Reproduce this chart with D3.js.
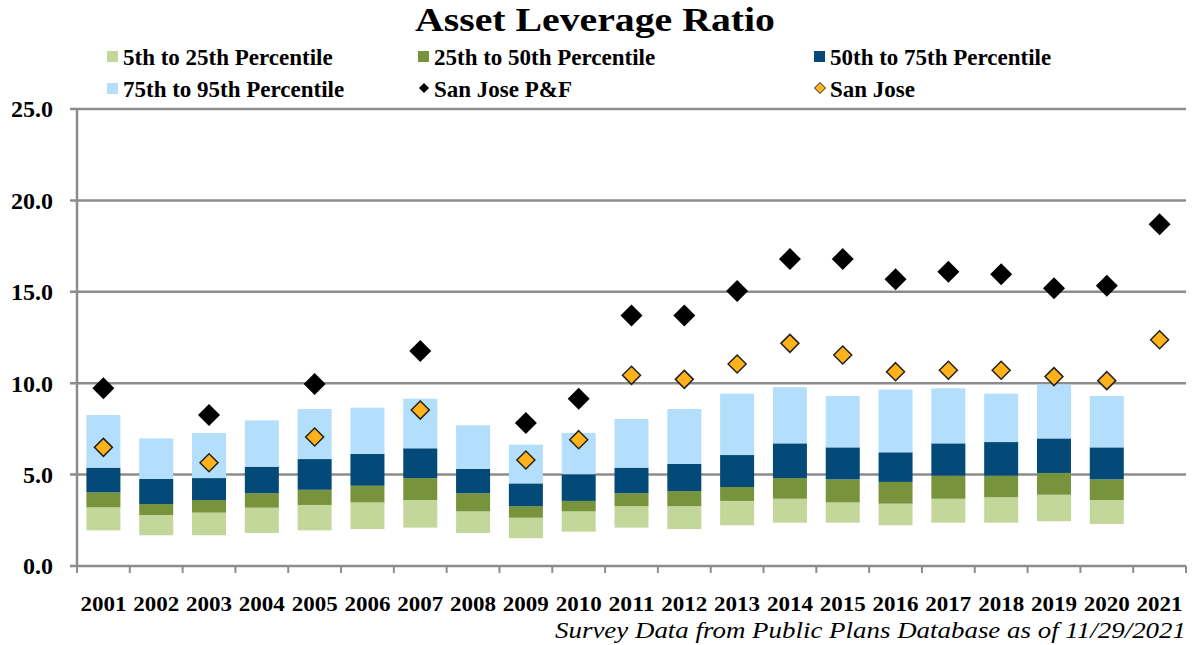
<!DOCTYPE html>
<html>
<head>
<meta charset="utf-8">
<script src="https://cdn.jsdelivr.net/npm/d3@7"></script>
<style>
body { margin: 0; background: #fff; }
svg { display: block; font-family: "Liberation Serif", "Times New Roman", serif; }
</style>
</head>
<body>
<svg width="1196" height="645"></svg>
<script>
// data
var years = ["2001","2002","2003","2004","2005","2006","2007","2008","2009","2010","2011",
             "2012","2013","2014","2015","2016","2017","2018","2019","2020","2021"];
var p5  = [1.95,1.68,1.68,1.81,1.95,2.02,2.10,1.81,1.52,1.88,2.10,2.02,2.23,2.37,2.37,2.23,2.37,2.37,2.45,2.30,null];
var p25 = [3.21,2.79,2.92,3.19,3.34,3.48,3.61,2.99,2.64,2.99,3.27,3.27,3.56,3.68,3.48,3.41,3.68,3.76,3.90,3.61,null];
var p50 = [4.03,3.39,3.61,3.98,4.17,4.39,4.81,3.98,3.27,3.56,3.98,4.10,4.32,4.81,4.74,4.60,4.94,4.94,5.09,4.74,null];
var p75 = [5.38,4.76,4.81,5.43,5.85,6.14,6.44,5.31,4.52,5.02,5.38,5.58,6.07,6.71,6.49,6.22,6.71,6.78,6.98,6.49,null];
var p95 = [8.26,6.98,7.28,7.97,8.59,8.66,9.15,7.70,6.64,7.28,8.04,8.59,9.43,9.78,9.30,9.65,9.72,9.43,9.92,9.30,null];
var sjPF = [9.72,null,8.26,null,9.96,null,11.76,null,7.82,9.15,13.71,13.71,15.04,16.79,16.79,15.68,16.10,15.96,15.19,15.33,18.69];
var sj   = [6.49,null,5.65,null,7.06,null,8.53,null,5.80,6.91,10.43,10.21,11.05,12.18,11.54,10.63,10.71,10.71,10.36,10.14,12.38];
var yTicks = [0,5,10,15,20,25];

var segNames = ["5th to 25th Percentile","25th to 50th Percentile","50th to 75th Percentile","75th to 95th Percentile"];
var segColors = ["#c4d79b","#77933c","#034a78","#b3dffc"];
var bounds = [p5,p25,p50,p75,p95];

var svg = d3.select("svg");
var margin = {left: 77, right: 10, top: 109, bottom: 79};
var width = 1196 - margin.left - margin.right;
var height = 645 - margin.top - margin.bottom;

var xb = d3.scaleBand().domain(years).range([0, width]).padding(0);
var y = d3.scaleLinear().domain([0,25]).range([height, 0]);

var g = svg.append("g").attr("transform","translate(" + margin.left + "," + margin.top + ")");

// gridlines
g.selectAll("line.grid").data(yTicks).enter().append("line")
  .attr("class","grid")
  .attr("x1", -7).attr("x2", width)
  .attr("y1", function(d){ return y(d); }).attr("y2", function(d){ return y(d); })
  .attr("stroke","#8c8c8c").attr("stroke-width",2.5);

// y axis line
g.append("line").attr("x1",0).attr("x2",0).attr("y1",0).attr("y2",height)
  .attr("stroke","#8c8c8c").attr("stroke-width",2.5);

// x ticks at band edges
var edges = years.map(function(d){ return xb(d); }).concat([width]);
g.selectAll("line.xt").data(edges).enter().append("line")
  .attr("x1", function(d){ return d; }).attr("x2", function(d){ return d; })
  .attr("y1", height).attr("y2", height + 7)
  .attr("stroke","#8c8c8c").attr("stroke-width",2);

// y labels
g.selectAll("text.yl").data(yTicks).enter().append("text")
  .attr("x", -24).attr("y", function(d){ return y(d); }).attr("dy","0.35em")
  .attr("text-anchor","end").attr("font-size","24px").attr("font-weight","bold")
  .text(function(d){ return d3.format(".1f")(d); });

// x labels
g.selectAll("text.xl").data(years).enter().append("text")
  .attr("x", function(d){ return xb(d) + xb.bandwidth()/2; }).attr("y", height + 45)
  .attr("text-anchor","middle").attr("font-size","22px").attr("font-weight","bold")
  .attr("textLength", 46).attr("lengthAdjust","spacingAndGlyphs")
  .text(function(d){ return d; });

// bars
var bw = 34;
for (var s = 0; s < 4; s++) {
  g.selectAll("rect.s" + s).data(years).enter()
    .filter(function(d,i){ return bounds[s][i] != null; })
    .append("rect")
    .attr("x", function(d){ return xb(d) + xb.bandwidth()/2 - bw/2; })
    .attr("width", bw)
    .attr("y", function(d){ var i = years.indexOf(d); return y(bounds[s+1][i]); })
    .attr("height", function(d){ var i = years.indexOf(d); return y(bounds[s][i]) - y(bounds[s+1][i]); })
    .attr("fill", segColors[s]);
}

var diamond = function(r){ return "M0," + (-r) + "L" + r + ",0L0," + r + "L" + (-r) + ",0Z"; };

// San Jose P&F
g.selectAll("path.pf").data(years).enter()
  .filter(function(d,i){ return sjPF[i] != null; })
  .append("path")
  .attr("transform", function(d){ var i = years.indexOf(d); return "translate(" + (xb(d) + xb.bandwidth()/2) + "," + y(sjPF[i]) + ")"; })
  .attr("d", diamond(11)).attr("fill","#000");

// San Jose
g.selectAll("path.sj").data(years).enter()
  .filter(function(d,i){ return sj[i] != null; })
  .append("path")
  .attr("transform", function(d){ var i = years.indexOf(d); return "translate(" + (xb(d) + xb.bandwidth()/2) + "," + y(sj[i]) + ")"; })
  .attr("d", diamond(9)).attr("fill","#ffb219").attr("stroke","#222").attr("stroke-width",1.5);

// title
svg.append("text").attr("x", 595).attr("y", 31).attr("text-anchor","middle")
  .attr("font-size","33px").attr("font-weight","bold")
  .attr("textLength", 360).attr("lengthAdjust","spacingAndGlyphs")
  .text("Asset Leverage Ratio");

// legend
var legend = [
  {name: segNames[0], type: "sq", color: segColors[0], x: 107, y: 57},
  {name: segNames[1], type: "sq", color: segColors[1], x: 418, y: 57},
  {name: segNames[2], type: "sq", color: segColors[2], x: 814, y: 57},
  {name: segNames[3], type: "sq", color: segColors[3], x: 107, y: 89},
  {name: "San Jose P&F", type: "pf", color: "#000", x: 418, y: 89},
  {name: "San Jose", type: "sj", color: "#ffb219", x: 814, y: 89}
];
var lg = svg.selectAll("g.lg").data(legend).enter().append("g")
  .attr("transform", function(d){ return "translate(" + d.x + "," + d.y + ")"; });
lg.filter(function(d){ return d.type == "sq"; }).append("rect")
  .attr("x", 0).attr("y", -6).attr("width", 11).attr("height", 11)
  .attr("fill", function(d){ return d.color; });
lg.filter(function(d){ return d.type == "pf"; }).append("path")
  .attr("transform","translate(6,-1)").attr("d", diamond(5)).attr("fill","#000");
lg.filter(function(d){ return d.type == "sj"; }).append("path")
  .attr("transform","translate(6,-1)").attr("d", diamond(5.5)).attr("fill","#ffb219").attr("stroke","#222").attr("stroke-width",1);
lg.append("text").attr("x", 16).attr("y", 0).attr("dy","0.35em")
  .attr("font-size","23px").attr("font-weight","bold")
  .text(function(d){ return d.name; });

// source note
svg.append("text").attr("x", 1186).attr("y", 638).attr("text-anchor","end")
  .attr("font-size","24px").attr("font-style","italic")
  .attr("textLength", 631).attr("lengthAdjust","spacingAndGlyphs")
  .text("Survey Data from Public Plans Database as of 11/29/2021");
</script>
</body>
</html>
